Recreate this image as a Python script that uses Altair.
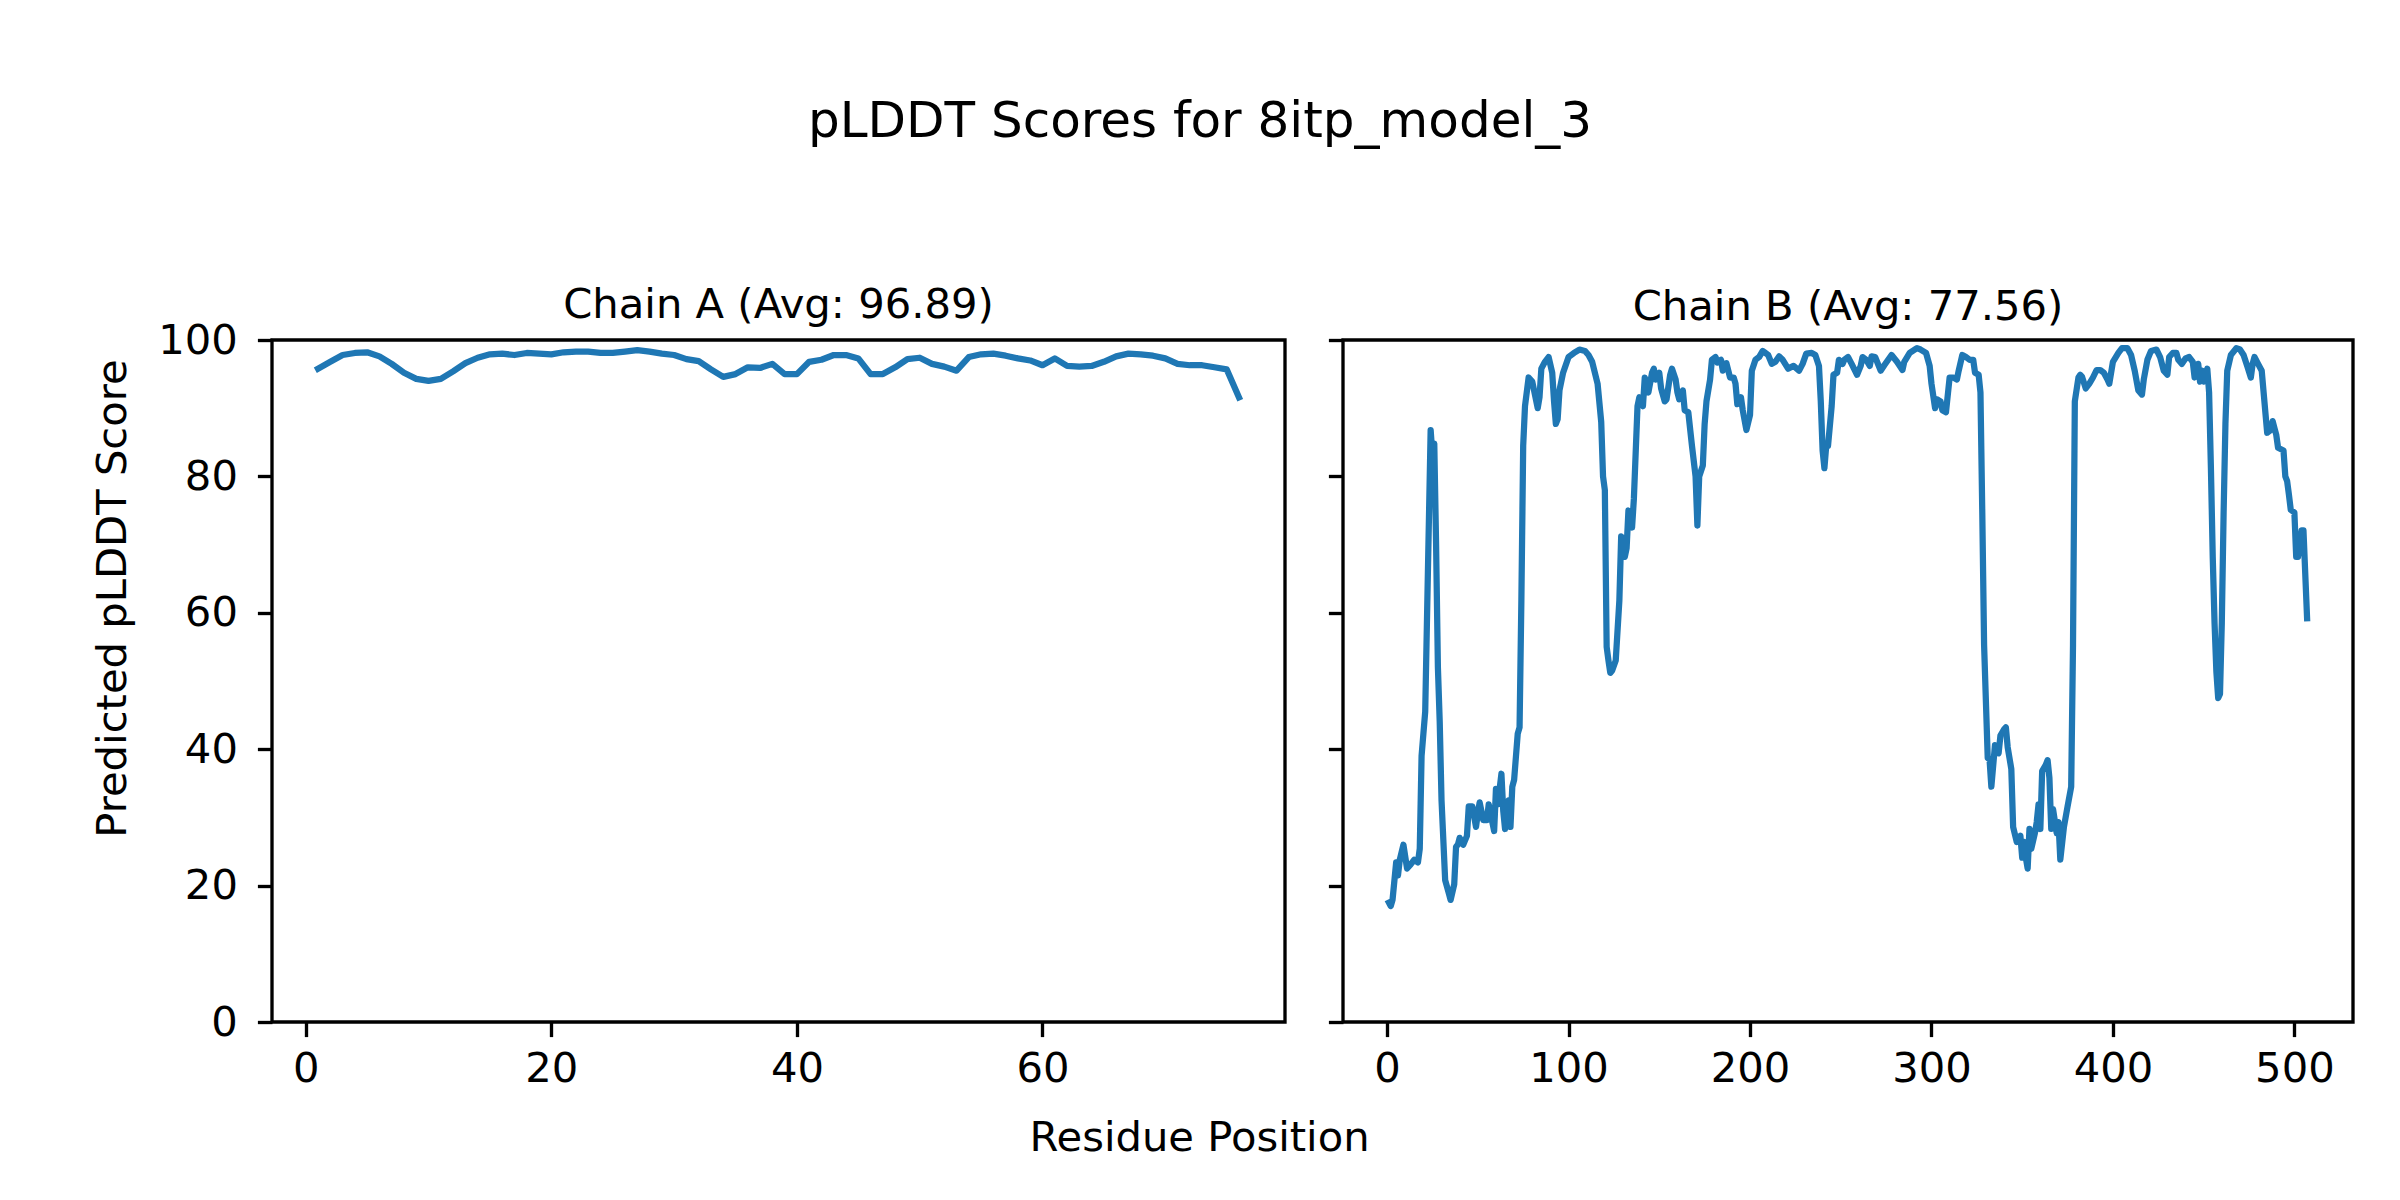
import altair as alt
import pandas as pd

# ---------------- data ----------------
chain_a_res = list(range(1, 77))
chain_a_plddt = [95.8, 96.8, 97.8, 98.1, 98.2, 97.6, 96.5, 95.2, 94.3, 94.0,
                 94.3, 95.4, 96.6, 97.4, 97.9, 98.0, 97.8, 98.1, 98.0, 97.9,
                 98.2, 98.3, 98.3, 98.1, 98.1, 98.3, 98.5, 98.3, 98.0, 97.8,
                 97.2, 96.9, 95.7, 94.6, 95.0, 96.0, 95.9, 96.5, 95.0, 95.0,
                 96.8, 97.1, 97.8, 97.8, 97.3, 95.0, 95.0, 96.0, 97.2, 97.4,
                 96.5, 96.1, 95.5, 97.5, 97.9, 98.0, 97.7, 97.3, 97.0, 96.3,
                 97.3, 96.2, 96.1, 96.2, 96.8, 97.6, 98.0, 97.9, 97.7, 97.3,
                 96.5, 96.3, 96.3, 96.0, 95.7, 91.6]

chain_b_res = [1, 2, 3, 5, 6, 7, 9, 11, 13, 15, 17, 18, 19, 21, 24, 25, 26, 27, 28, 29,
               30, 32, 34, 35, 37, 38, 39, 40, 42, 44, 45, 47, 49, 50, 51, 53, 55, 56, 59, 60,
               61, 63, 64, 65, 67, 68, 69, 70, 72, 73, 74, 75, 76, 78, 80, 83, 84, 85, 87, 89,
               91, 92, 93, 94, 95, 97, 100, 103, 106, 109, 111, 113, 116, 118, 119, 120, 121, 122, 123, 124,
               126, 128, 129, 131, 132, 133, 135, 136, 138, 139, 141, 142, 144, 146, 147, 148, 150, 151, 153, 154,
               156, 157, 159, 160, 161, 163, 164, 166, 168, 170, 171, 172, 174, 175, 176, 178, 179, 181, 182, 184,
               185, 186, 187, 189, 191, 192, 193, 195, 196, 198, 200, 201, 203, 205, 207, 208, 210, 212, 214, 216,
               218, 221, 224, 227, 229, 231, 234, 236, 238, 239, 240, 241, 242, 243, 245, 246, 248, 249, 251, 252,
               254, 256, 259, 261, 262, 264, 266, 267, 269, 272, 274, 278, 281, 284, 285, 288, 292, 294, 297, 299,
               300, 302, 303, 305, 306, 308, 310, 312, 314, 315, 317, 319, 321, 323, 324, 326, 327, 328, 329, 331,
               332, 333, 335, 336, 337, 338, 340, 341, 342, 344, 345, 347, 349, 350, 351, 352, 353, 354, 355, 357,
               358, 359, 360, 361, 363, 364, 365, 366, 367, 369, 370, 371, 373, 375, 377, 378, 379, 381, 382, 383,
               385, 387, 389, 391, 393, 395, 397, 398, 400, 403, 405, 408, 410, 412, 414, 416, 417, 419, 421, 424,
               426, 428, 430, 431, 433, 435, 436, 438, 440, 442, 444, 445, 447, 448, 449, 450, 452, 453, 454, 455,
               456, 457, 458, 459, 460, 461, 462, 463, 465, 468, 470, 472, 474, 476, 477, 478, 480, 482, 484, 485,
               487, 488, 489, 490, 491, 494, 495, 496, 497, 498, 500, 501, 502, 504, 505, 507]
chain_b_plddt = [17.5, 17.0, 17.9, 23.4, 21.5, 23.8, 26.0, 22.5, 23.1, 23.8, 23.4, 25.4, 39.0, 45.5, 86.8, 83.0, 84.8, 70.0, 52.0, 44.0,
                 32.5, 20.8, 18.9, 17.9, 20.2, 25.7, 26.0, 27.0, 26.0, 27.3, 31.6, 31.6, 28.6, 30.6, 32.2, 29.6, 29.6, 31.9, 28.0, 34.2,
                 31.9, 36.4, 31.0, 28.3, 32.5, 28.6, 34.5, 35.5, 42.3, 43.2, 61.8, 84.5, 90.3, 94.5, 93.9, 90.0, 91.6, 95.8, 96.8, 97.5,
                 95.2, 91.0, 87.7, 88.4, 92.6, 95.2, 97.5, 98.1, 98.6, 98.4, 97.8, 96.8, 93.6, 88.0, 80.0, 78.0, 55.0, 53.0, 51.2, 51.5,
                 53.0, 61.8, 71.2, 68.2, 69.5, 75.0, 72.5, 76.7, 90.3, 91.6, 90.3, 94.5, 92.3, 95.2, 95.8, 94.2, 95.2, 92.9, 91.0, 91.3,
                 94.9, 95.8, 94.2, 92.3, 91.3, 92.6, 89.7, 89.4, 84.5, 80.0, 72.8, 80.0, 81.6, 87.7, 91.0, 94.2, 97.1, 97.5, 96.7, 97.1,
                 95.5, 96.5, 96.6, 94.5, 94.5, 93.6, 90.6, 91.6, 89.7, 86.8, 89.0, 95.5, 97.1, 97.5, 98.4, 98.2, 97.8, 96.5, 96.8, 97.6,
                 97.1, 95.8, 96.2, 95.5, 96.5, 98.0, 98.1, 97.8, 96.2, 91.0, 83.8, 81.2, 84.5, 84.5, 90.3, 94.9, 95.2, 97.1, 96.5, 97.1,
                 97.5, 96.5, 94.9, 96.2, 97.5, 97.1, 96.2, 97.6, 97.5, 95.5, 96.3, 97.8, 96.8, 95.6, 96.8, 98.1, 98.8, 98.6, 98.1, 96.2,
                 93.6, 90.0, 91.3, 91.0, 89.7, 89.4, 94.5, 94.5, 94.2, 95.5, 97.8, 97.5, 97.1, 97.1, 95.2, 94.9, 92.3, 74.7, 55.3, 38.7,
                 38.5, 34.5, 40.6, 39.7, 39.4, 42.0, 42.9, 43.2, 40.3, 37.1, 28.6, 26.4, 27.3, 24.1, 26.4, 24.1, 22.5, 28.3, 25.4, 27.7,
                 29.3, 31.9, 28.3, 36.8, 37.7, 38.4, 35.8, 28.3, 31.2, 27.7, 29.3, 23.8, 28.6, 31.6, 34.5, 55.3, 91.0, 94.5, 94.9, 94.6,
                 92.9, 93.6, 94.5, 95.6, 95.6, 95.2, 94.2, 93.6, 96.8, 98.1, 98.8, 98.8, 97.8, 95.5, 92.6, 92.0, 94.2, 97.1, 98.4, 98.6,
                 97.5, 95.5, 94.9, 97.5, 98.1, 98.1, 97.1, 96.5, 97.3, 97.5, 96.8, 94.5, 96.5, 93.9, 95.5, 93.9, 95.8, 92.3, 81.2, 68.2,
                 58.5, 51.4, 47.5, 48.1, 58.5, 74.7, 87.7, 95.5, 97.8, 98.8, 98.6, 97.8, 96.2, 94.5, 96.5, 97.5, 96.5, 95.5, 89.4, 86.4,
                 86.8, 88.1, 87.1, 86.1, 84.2, 83.8, 80.0, 79.3, 77.3, 75.1, 74.7, 68.2, 68.2, 72.1, 72.1, 59.2]

chain_titles = ["Chain A (Avg: 96.89)", "Chain B (Avg: 77.56)"]
a_ticks = [0, 20, 40, 60]
b_ticks = [0, 100, 200, 300, 400, 500]
y_ticks = [0, 20, 40, 60, 80, 100]

df_a = pd.DataFrame({"res": chain_a_res, "plddt": chain_a_plddt})
df_b = pd.DataFrame({"res": chain_b_res, "plddt": chain_b_plddt})

FONT = "DejaVu Sans"
FS = 41.7
LW = 3.33
BLUE = "#1f77b4"


def sub_title(t, dy):
    return alt.TitleParams(t, font=FONT, fontSize=FS, fontWeight="normal", color="black",
                           anchor="middle", frame="group", offset=25, dy=dy, baseline="alphabetic")


line_a = alt.Chart(df_a, title=sub_title(chain_titles[0], 65)).mark_line(
    color=BLUE, strokeWidth=6.25, strokeJoin="round", strokeCap="square"
).encode(
    x=alt.X("res:Q", scale=alt.Scale(domain=[-2.75, 79.75], nice=False, zero=False),
            axis=alt.Axis(values=a_ticks, title="Residue Position", titleX=927, titleY=115,
                          titleAlign="center", titleBaseline="middle", titleAngle=0, labelPadding=12)),
    y=alt.Y("plddt:Q", scale=alt.Scale(domain=[0, 100], nice=False),
            axis=alt.Axis(values=y_ticks, title="Predicted pLDDT Score", titleX=-160, titleY=258,
                          titleAngle=270, titleAlign="center", titleBaseline="middle", labelPadding=20)),
).properties(width=1013, height=682)

line_b = alt.Chart(df_b, title=sub_title(chain_titles[1], 48)).mark_line(
    color=BLUE, strokeWidth=6.25, strokeJoin="round", strokeCap="square"
).encode(
    x=alt.X("res:Q", scale=alt.Scale(domain=[-24.3, 532.3], nice=False, zero=False),
            axis=alt.Axis(values=b_ticks, title=None, labelPadding=12)),
    y=alt.Y("plddt:Q", scale=alt.Scale(domain=[0, 100], nice=False),
            axis=alt.Axis(values=y_ticks, title=None, labels=False)),
).properties(width=1010, height=682)

chart = alt.hconcat(line_a, line_b, spacing=58, bounds="flush").resolve_scale(
    x="independent", y="independent"
).properties(
    title=alt.TitleParams("pLDDT Scores for 8itp_model_3", font=FONT, fontSize=50,
                          fontWeight="normal", color="black", anchor="start", align="center",
                          frame="group", dx=928, dy=51, offset=148, baseline="alphabetic"),
    autosize=alt.AutoSizeParams(type="none"),
    padding={"left": 264, "top": 332, "right": 2120, "bottom": 852},
    background="white",
).configure_view(
    stroke="black", strokeWidth=LW, fill="white"
).configure_axis(
    grid=False, domain=False, labelFont=FONT, labelFontSize=FS, labelColor="black",
    tickColor="black", tickWidth=LW, tickSize=14.6, titleFont=FONT, titleFontSize=FS,
    titleFontWeight="normal", titleColor="black", labelFlush=False, labelOverlap=False
)

chart.save("out.html", embed_options={"renderer": "svg", "actions": False})
